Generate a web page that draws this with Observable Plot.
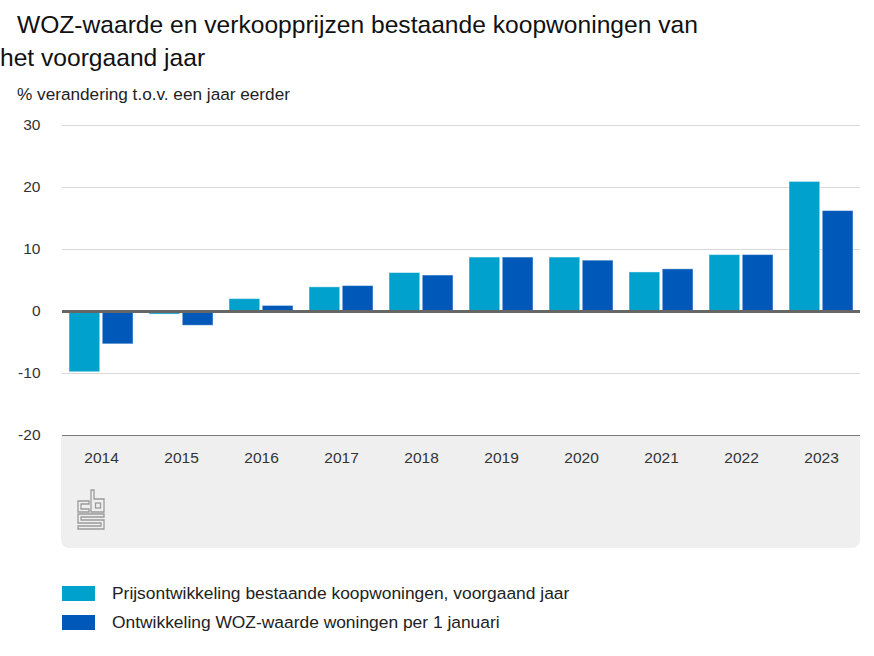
<!DOCTYPE html>
<html>
<head>
<meta charset="utf-8">
<script src="https://cdn.jsdelivr.net/npm/d3@7"></script>
<script src="https://cdn.jsdelivr.net/npm/@observablehq/plot@0.6"></script>
<style>
  html, body { margin: 0; padding: 0; background: #fff; }
  body { width: 874px; height: 656px; position: relative; overflow: hidden; font-family: "Liberation Sans", Arial, sans-serif; color: #222; }
  .abs { position: absolute; white-space: nowrap; }
  #title { left: 0; top: 8px; font-size: 24.6px; line-height: 33px; color: #111; }
  #title .ind { padding-left: 17px; }
  #subtitle { left: 17px; top: 84px; font-size: 17.2px; color: #222; }
  #box { left: 61px; top: 435px; width: 799px; height: 113px; background: #efefef; border-radius: 0 0 8px 8px; }
  #chart { left: 0; top: 110px; }
  #logo { left: 77px; top: 489px; }
  .leg { left: 62px; font-size: 17.4px; color: #222; }
  .sw { display: inline-block; width: 33px; height: 15px; vertical-align: -2px; margin-right: 17px; }
</style>
</head>
<body>
<div id="title" class="abs"><span class="ind">WOZ-waarde en verkoopprijzen bestaande koopwoningen van</span><br>het voorgaand jaar</div>
<div id="subtitle" class="abs">% verandering t.o.v. een jaar eerder</div>
<div id="box" class="abs"></div>
<svg id="logo" class="abs" width="30" height="42" viewBox="0 0 30 42" fill="none" stroke="#9a9a9a" stroke-width="1.3">
  <path d="M12,12 H1 V23 H12 V20 H4 V15 H12 Z"/>
  <path d="M14,1 H17 V10 H27 V23 H14 Z"/>
  <rect x="18.5" y="14" width="5" height="5"/>
  <path d="M27,25 H1 V34 H24 V37 H1 V40 H27 V31 H4 V28 H27 Z"/>
</svg>
<div id="chart" class="abs"></div>
<div class="abs leg" style="top:583px;"><span class="sw" style="background:#00a1cd"></span>Prijsontwikkeling bestaande koopwoningen, voorgaand jaar</div>
<div class="abs leg" style="top:612px;"><span class="sw" style="background:#0058b8"></span>Ontwikkeling WOZ-waarde woningen per 1 januari</div>
<script>
const years = ["2014","2015","2016","2017","2018","2019","2020","2021","2022","2023"];
const prijs = [-9.8, -0.5, 2.0, 3.9, 6.2, 8.7, 8.7, 6.3, 9.1, 20.9];
const woz   = [-5.3, -2.3, 0.9, 4.1, 5.8, 8.7, 8.2, 6.8, 9.1, 16.2];
const yTicks = [-20, -10, 0, 10, 20, 30];
const gridTicks = [-10, 10, 20, 30];

const prijsData = years.map((y, i) => ({year: y, value: prijs[i]}));
const wozData = years.map((y, i) => ({year: y, value: woz[i]}));

const W = 874, H = 450, mL = 62, mR = 14, mT = 15, mB = 125;
const pIn = 0.195, pOut = 0.079;
const step = (W - mL - mR) / (years.length - pIn + 2 * pOut);
const bw = step * (1 - pIn);
const inset = bw / 2 + 1;

const chart = Plot.plot({
  width: W, height: H,
  marginLeft: mL, marginRight: mR, marginTop: mT, marginBottom: mB,
  style: {background: "transparent", fontFamily: "Liberation Sans, Arial, sans-serif", fontSize: "15.5px", color: "#333"},
  x: {domain: years, type: "band", paddingInner: pIn, paddingOuter: pOut, label: null, tickSize: 0, tickPadding: 16},
  y: {domain: [-20, 30], ticks: yTicks, label: null, tickSize: 0, tickPadding: 22, tickFormat: d => String(d)},
  marks: [
    Plot.ruleY(gridTicks, {stroke: "#d9d9d9", strokeWidth: 1}),
    Plot.ruleY([-20], {stroke: "#7a7a7a", strokeWidth: 1.2}),
    Plot.barY(prijsData, {x: "year", y: "value", fill: "#00a1cd", insetRight: inset, stroke: "#ffffff", strokeOpacity: 0.45, strokeWidth: 1}),
    Plot.barY(wozData, {x: "year", y: "value", fill: "#0058b8", insetLeft: inset, stroke: "#ffffff", strokeOpacity: 0.45, strokeWidth: 1}),
    Plot.ruleY([0], {stroke: "#666666", strokeWidth: 3})
  ]
});
document.getElementById("chart").appendChild(chart);
</script>
</body>
</html>
